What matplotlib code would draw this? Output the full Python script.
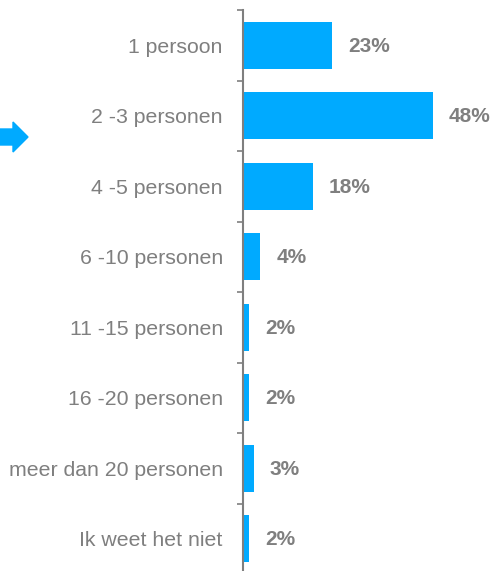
import matplotlib.pyplot as plt
import numpy as np
from matplotlib.patches import Polygon

categories = ["1 persoon", "2 -3 personen", "4 -5 personen", "6 -10 personen",
              "11 -15 personen", "16 -20 personen", "meer dan 20 personen",
              "Ik weet het niet"]
values = [22.6, 48.1, 17.7, 4.4, 1.6, 1.6, 2.7, 1.6]
labels = ["23%", "48%", "18%", "4%", "2%", "2%", "3%", "2%"]

BAR_COLOR = "#00aaff"
GREY = "#7f7f7f"

plt.rcParams['font.family'] = ['Liberation Sans', 'DejaVu Sans']

fig = plt.figure(figsize=(4.95, 5.71), dpi=100)
ax = fig.add_axes([243 / 495, -3 / 571, 252 / 495, 564 / 571])

y = np.arange(len(categories))
ax.barh(y, values, height=0.67, color=BAR_COLOR)

for yi, v, lab in zip(y, values, labels):
    ax.annotate(lab, (v, yi), xytext=(16, -1), textcoords="offset pixels",
                ha="left", va="center", fontsize=15, fontweight="bold", color=GREY)

ax.set_xlim(0, 63.8)
ax.set_ylim(len(categories) - 0.5, -0.5)
ax.set_yticks(y)
ax.set_yticklabels(categories, fontsize=15.3, color=GREY)
ax.tick_params(axis="y", which="major", length=0, pad=14.5)
ax.set_yticks(np.arange(len(categories) + 1) - 0.5, minor=True)
ax.tick_params(axis="y", which="minor", length=4.5, width=1.2, color=GREY)
ax.set_xticks([])

for side in ["top", "right", "bottom"]:
    ax.spines[side].set_visible(False)
ax.spines["left"].set_color(GREY)
ax.spines["left"].set_linewidth(1.5)

# blue arrow on the left, pointing at the biggest group
arrow_px = [[0, 129], [13, 129], [13, 122], [28, 137], [13, 152], [13, 145], [0, 145]]
arrow = Polygon([[px / 495, 1 - py / 571] for px, py in arrow_px],
                closed=True, color=BAR_COLOR, transform=fig.transFigure)
fig.patches.append(arrow)

fig.savefig("out.png", dpi=100)
